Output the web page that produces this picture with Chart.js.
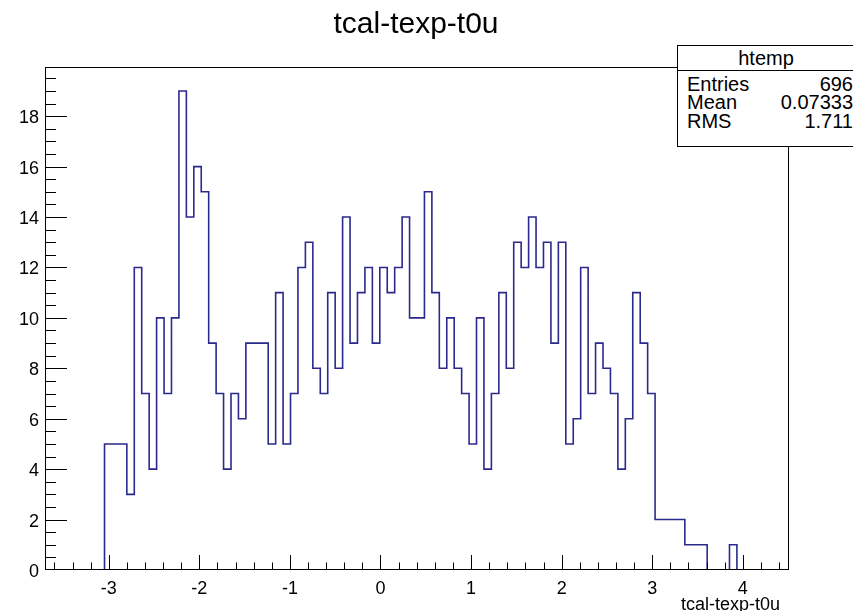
<!DOCTYPE html>
<html>
<head>
<meta charset="utf-8">
<script src="https://cdn.jsdelivr.net/npm/chart.js@4.4.1/dist/chart.umd.min.js"></script>
<style>
    body { margin: 0; background: #fff; }
    #wrap { position: relative; width: 853px; height: 611px; overflow: hidden; font-family: "Liberation Sans", Arial, sans-serif; }
    #title { position: absolute; left: 0; width: 832px; top: 8px; text-align: center; font-size: 30px; line-height: 30px; color: #000; }
    #xtitle { position: absolute; right: 73px; top: 595px; font-size: 18px; line-height: 18px; color: #000; }
    #stats { position: absolute; left: 677px; top: 45px; width: 190px; height: 100px; border: 1px solid #000; background: #fff; font-size: 20px; line-height: 20px; }
    #stats .hdr { position: absolute; left: 0; top: 0; width: 176px; height: 24px; border-bottom: 1px solid #000; text-align: center; }
    #stats .row { position: absolute; left: 9px; width: 166px; }
    #stats .row span { float: right; }
</style>
</head>
<body>
<div id="wrap">
    <canvas id="chart" width="853" height="611"></canvas>
    <div id="title">tcal-texp-t0u</div>
    <div id="xtitle">tcal-texp-t0u</div>
    <div id="stats">
        <div class="hdr"><div style="margin-top:2px">htemp</div></div>
        <div class="row" style="top:28px">Entries<span>696</span></div>
        <div class="row" style="top:46px">Mean<span>0.07333</span></div>
        <div class="row" style="top:65px">RMS<span>1.711</span></div>
    </div>
</div>
<script>
// histogram binning (100 bins) and counts per bin
const xMin = -3.704;
const xMax = 4.51;
const nBins = 100;
const counts = [
    0, 0, 0, 0, 0, 0, 0, 0, 5, 5,
    5, 3, 12, 7, 4, 10, 7, 10, 19, 14,
    16, 15, 9, 7, 4, 7, 6, 9, 9, 9,
    5, 11, 5, 7, 12, 13, 8, 7, 11, 8,
    14, 9, 11, 12, 9, 12, 11, 12, 14, 10,
    10, 15, 11, 8, 10, 8, 7, 5, 10, 4,
    7, 11, 8, 13, 12, 14, 12, 13, 9, 13,
    5, 6, 12, 7, 9, 8, 7, 4, 6, 11,
    9, 7, 2, 2, 2, 2, 1, 1, 1, 0,
    0, 0, 1, 0, 0, 0, 0, 0, 0, 0
];
const yMax = 19.95;
const xTicks = [-3, -2, -1, 0, 1, 2, 3, 4];
const yTicks = [0, 2, 4, 6, 8, 10, 12, 14, 16, 18];

const binWidth = (xMax - xMin) / nBins;
const points = [];
for (let i = 0; i < nBins; i++) {
    points.push({ x: xMin + i * binWidth, y: counts[i] });
}
points.push({ x: xMax, y: counts[nBins - 1] });

// ROOT style frame with ticks pointing inwards
const frameTicks = {
    id: 'frameTicks',
    afterDraw(chart) {
        const ctx = chart.ctx;
        const a = chart.chartArea;
        const xs = chart.scales.x;
        const ys = chart.scales.y;
        ctx.save();
        ctx.strokeStyle = '#000';
        ctx.lineWidth = 1;
        ctx.strokeRect(a.left + 0.5, a.top + 0.5, a.right - a.left - 1, a.bottom - a.top - 1);
        ctx.beginPath();
        for (let k = Math.ceil(xMin / 0.2); k <= Math.floor(xMax / 0.2); k++) {
            const px = Math.round(xs.getPixelForValue(k * 0.2)) + 0.5;
            const len = k % 5 === 0 ? 15 : 7.5;
            ctx.moveTo(px, a.bottom);
            ctx.lineTo(px, a.bottom - len);
        }
        for (let k = 1; k * 0.5 <= yMax; k++) {
            const py = Math.round(ys.getPixelForValue(k * 0.5)) + 0.5;
            const len = k % 4 === 0 ? 22 : 11;
            ctx.moveTo(a.left, py);
            ctx.lineTo(a.left + len, py);
        }
        ctx.stroke();
        ctx.restore();
    }
};

new Chart(document.getElementById('chart'), {
    type: 'line',
    data: {
        datasets: [{
            data: points,
            stepped: 'before',
            borderColor: '#2a2a8c',
            borderWidth: 1.6,
            pointRadius: 0,
            fill: false
        }]
    },
    options: {
        responsive: false,
        animation: false,
        layout: { padding: { left: 0, top: 67, right: 64, bottom: 0 } },
        plugins: { legend: { display: false }, tooltip: { enabled: false } },
        scales: {
            x: {
                type: 'linear',
                min: xMin,
                max: xMax,
                afterFit: s => { s.height = 41; },
                afterBuildTicks: s => { s.ticks = xTicks.map(v => ({ value: v })); },
                ticks: {
                    padding: 8,
                    color: '#000',
                    font: { family: 'Liberation Sans', size: 18 },
                    maxRotation: 0
                },
                grid: { display: false, drawTicks: false },
                border: { display: false }
            },
            y: {
                min: 0,
                max: yMax,
                afterFit: s => { s.width = 45; },
                afterBuildTicks: s => { s.ticks = yTicks.map(v => ({ value: v })); },
                ticks: {
                    padding: 6,
                    labelOffset: 2,
                    color: '#000',
                    font: { family: 'Liberation Sans', size: 18 }
                },
                grid: { display: false, drawTicks: false },
                border: { display: false }
            }
        }
    },
    plugins: [frameTicks]
});
</script>
</body>
</html>
